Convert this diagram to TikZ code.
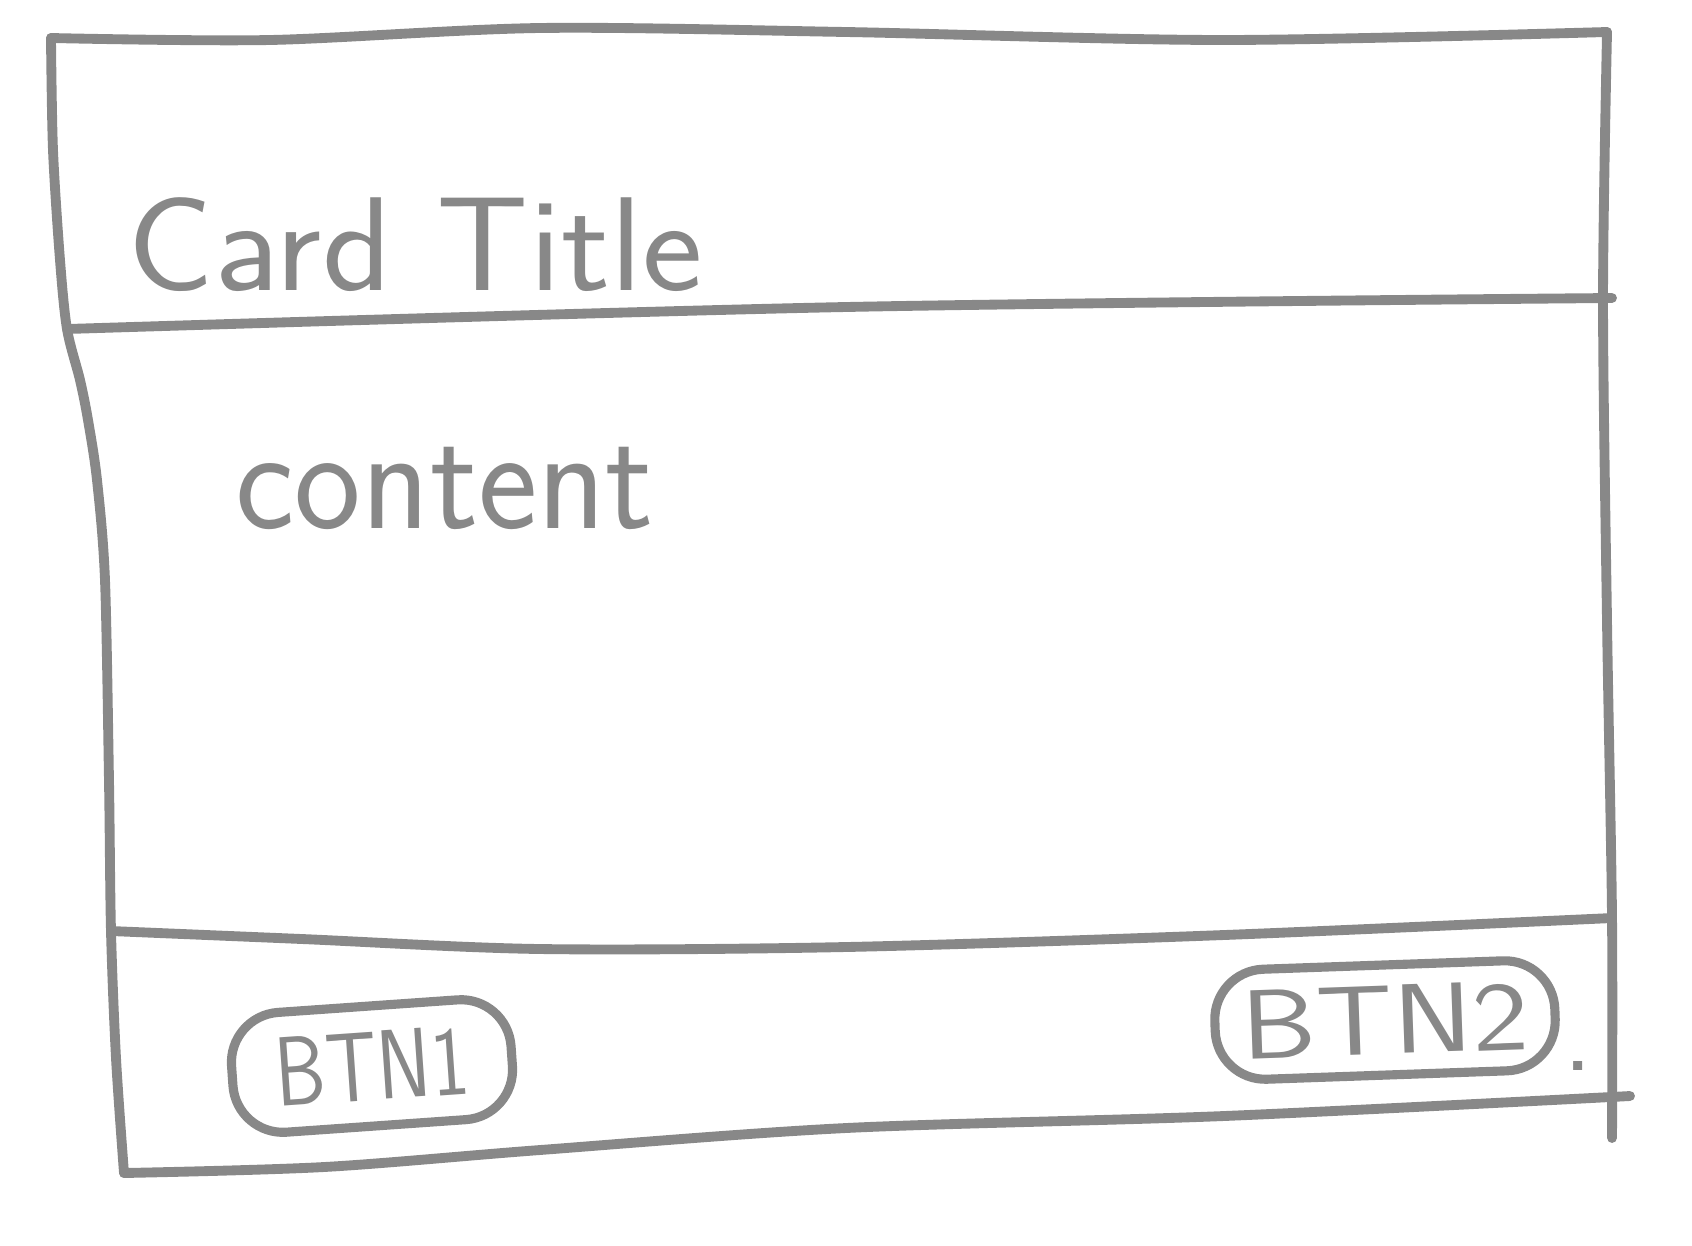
\documentclass[tikz,border=0pt]{standalone}
\usetikzlibrary{shapes.misc}
\definecolor{pencil}{RGB}{136,136,136}
\tikzset{
  stroke/.style={draw=pencil, line width=2.8pt, line cap=round, line join=round},
  hand/.style={text=pencil, font=\sffamily\fontsize{38}{40}\selectfont, inner sep=0pt},
  btn/.style={draw=pencil, line width=2.6pt, rounded corners=0.5cm, text=pencil,
    font=\sffamily\fontsize{28}{30}\selectfont, inner sep=0pt},
}
\begin{document}
\begin{tikzpicture}[x=0.01cm, y=-0.01cm]
  \useasboundingbox (0,0) rectangle (1692,1245);
  \path
    (51,38) coordinate (tl)
    (1607,32) coordinate (tr)
    (67,329) coordinate (hl)
    (1612,298) coordinate (hr)
    (111,931) coordinate (fl)
    (1612,918) coordinate (fr)
    (124,1173) coordinate (bl)
    (1630,1096) coordinate (br)
    (1612,1138) coordinate (rb);
  % frame
  \begin{scope}[stroke]
    \draw plot[smooth] coordinates {(tl) (270,40) (540,28) (846,32) (1224,40) (tr)};
    \draw plot[smooth] coordinates {(tl) (53,150) (60,260) (hl) (80,380) (88,420) (97,480)
      (105,580) (109,781) (fl) (116,1058) (bl)};
    \draw plot[smooth] coordinates {(tr) (1603,300) (1607,622) (fr) (rb)};
    \draw plot[smooth] coordinates {(hl) (846,307) (hr)};
    \draw plot[smooth] coordinates {(fl) (302,939) (540,949) (846,947) (1224,935) (fr)};
    \draw plot[smooth] coordinates {(bl) (324,1167) (540,1150) (846,1128) (1224,1116) (br)};
  \end{scope}
  % texts
  \node[hand, anchor=base west] (title) at (127,290) {\scalebox{1.08}[1]{Card Title}};
  \node[hand, anchor=base west] (content) at (235,528) {\scalebox{1.06}[1.1]{content}};
  % buttons
  \node[btn, rotate=4, minimum width=2.8cm, minimum height=1.2cm] (btnone)
    at (372,1066) {\scalebox{0.82}[1]{BTN1}};
  \node[btn, rotate=2, minimum width=3.4cm, minimum height=1.1cm] (btntwo)
    at (1385,1020) {\scalebox{1.22}[1]{BTN2}};
  \node[hand, font=\sffamily\fontsize{32}{34}\selectfont] (dot) at (1578,1066) {.};
\end{tikzpicture}
\end{document}
